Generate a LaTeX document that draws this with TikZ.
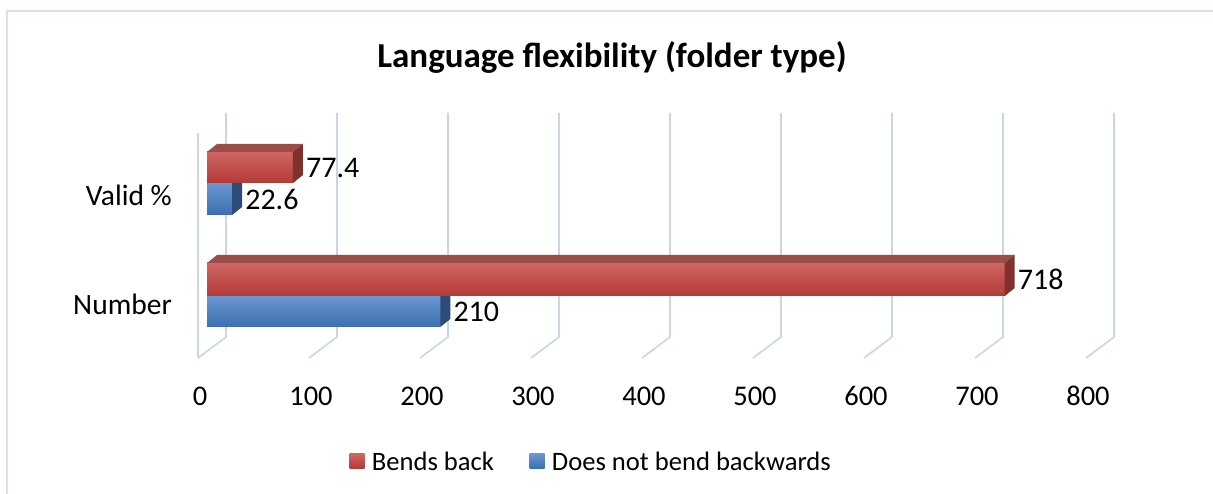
\documentclass[tikz,border=0pt]{standalone}
\usepackage{fontspec}
\setmainfont{Carlito}
\usepackage{xcolor}
\usetikzlibrary{positioning}
\definecolor{GridBlue}{RGB}{200,214,234}
\definecolor{FrameBlue}{RGB}{214,226,242}
\definecolor{RedLight}{RGB}{208,102,99}
\definecolor{RedDark}{RGB}{178,58,55}
\definecolor{RedTop}{RGB}{155,77,74}
\definecolor{RedSide}{RGB}{128,48,45}
\definecolor{BlueLight}{RGB}{108,150,208}
\definecolor{BlueDark}{RGB}{60,111,176}
\definecolor{BlueTop}{RGB}{74,112,160}
\definecolor{BlueSide}{RGB}{44,77,122}

\tikzset{
  gridline/.style={draw=GridBlue, line width=1.6pt},
  chartframe/.style={draw=FrameBlue, line width=1.5pt},
  ticklabel/.style={font=\fontsize{28.5}{32}\selectfont, inner sep=0pt},
  catlabel/.style={font=\fontsize{29.5}{33}\selectfont, anchor=east, inner sep=0pt},
  valuelabel/.style={font=\fontsize{30}{33}\selectfont, inner sep=0pt},
  legendkey/.style={minimum size=15pt, inner sep=0pt},
  legendtext/.style={font=\fontsize{26.6}{30}\selectfont, inner sep=0pt},
  titlelabel/.style={font=\fontsize{35}{40}\selectfont\bfseries, inner sep=0pt}
}

% one 3-d bar: name, top y, bottom y, value, colour prefix
\newcommand\chartbar[5]{%
  \fill[top color=#5Light, bottom color=#5Dark]
    (207,#2) rectangle ({207+1.111*#4},#3);
  \fill[#5Top] (207,#2) -- ++(10,-8) -- ({217+1.111*#4},{#2-8})
    -- ({207+1.111*#4},#2) -- cycle;
  \fill[#5Side] ({207+1.111*#4},#2) -- ++(10,-8) -- ({217+1.111*#4},{#3-8})
    -- ({207+1.111*#4},#3) -- cycle;
  \coordinate (#1) at ({217+1.111*#4},{(#2+#3)/2});
}

\begin{document}
\begin{tikzpicture}[x=1pt, y=-1pt]
  \useasboundingbox (0,0) rectangle (1213,494);
  \fill[white] (0,0) rectangle (1213,494);
  \draw[chartframe] (7,494) |- (1213,11);

  % walls and floor
  \foreach \k in {0,...,8}
    \draw[gridline] ({198+111*\k},358) -- ++(28,-21) -- ++(0,-224);
  \draw[gridline] (198,358) -- (198,133);

  % axis
  \foreach \v [count=\k from 0] in {0,100,...,800}
    \node[ticklabel] (tick\k) at ({200+111*\k},396) {\v};

  % bars
  \chartbar{valid-blue}{183}{215}{22.6}{Blue}
  \chartbar{valid-red}{152}{183}{77.4}{Red}
  \chartbar{number-blue}{296}{327}{210}{Blue}
  \chartbar{number-red}{263}{296}{718}{Red}

  \node[valuelabel, right=3pt of valid-red] (lbl-valid-red) {77.4};
  \node[valuelabel, right=3pt of valid-blue] (lbl-valid-blue) {22.6};
  \node[valuelabel, right=3pt of number-red] (lbl-number-red) {718};
  \node[valuelabel, right=3pt of number-blue] (lbl-number-blue) {210};

  \node[catlabel] (cat-valid) at (172,195) {Valid \%};
  \node[catlabel] (cat-number) at (172,304) {Number};

  \node[titlelabel] (title) at (612,57) {Language flexibility (folder type)};

  % legend
  \node[legendkey, top color=RedLight, bottom color=RedDark] (key-red) at (357,461) {};
  \node[legendtext, right=7pt of key-red] (txt-red) {Bends back};
  \node[legendkey, top color=BlueLight, bottom color=BlueDark] (key-blue) at (537,461) {};
  \node[legendtext, right=7pt of key-blue] (txt-blue) {Does not bend backwards};
\end{tikzpicture}
\end{document}
